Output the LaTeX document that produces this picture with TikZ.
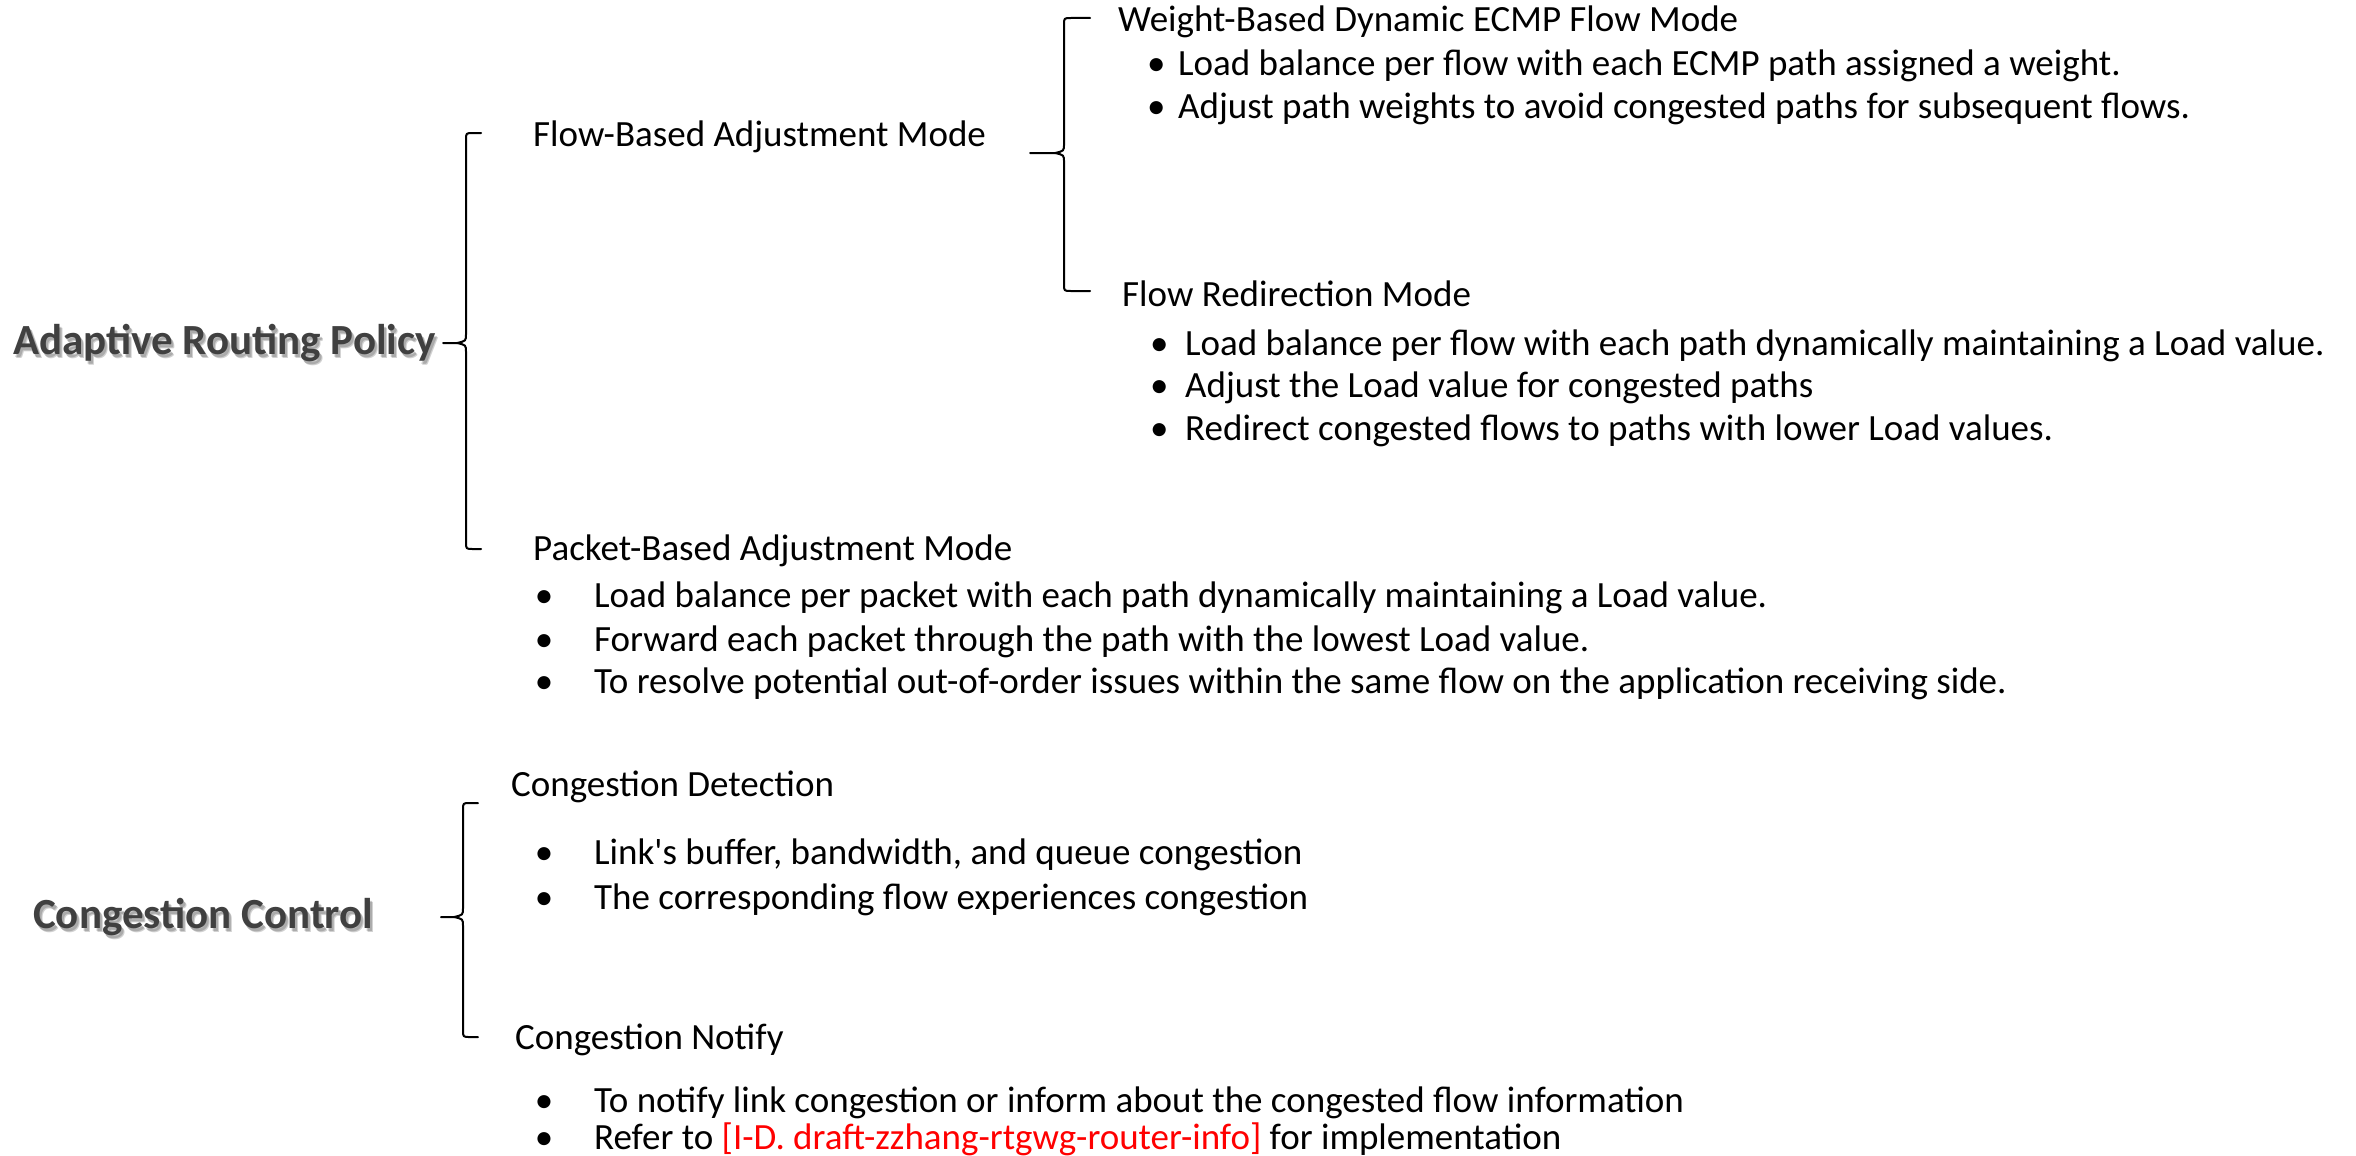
\documentclass[tikz,border=0pt]{standalone}
\usepackage{fontspec}
\setmainfont{Carlito}[Ligatures=TeXOff]
\definecolor{headgray}{HTML}{404040}
\definecolor{linkred}{HTML}{FF0000}

% bullet centred #1 to the left of where the item text starts
\newcommand\bulitem[2]{\llap{\makebox[0pt]{•}\hspace{#1}}#2}

% left curly bracket: x, top y, tip y, bottom y, end x of the hooks, end x of the tip
\newcommand\drawbrace[6]{%
  \draw[bracestyle] (#5,#2) -- ({#1+7},#2) .. controls (#1,#2) .. (#1,{#2+7})
    -- (#1,{#3-9}) .. controls (#1,{#3-2}) .. ({#1-9},#3) -- (#6,#3);
  \draw[bracestyle] ({#1-9},#3) .. controls (#1,{#3+2}) .. (#1,{#3+9})
    -- (#1,{#4-7}) .. controls (#1,#4) .. ({#1+7},#4) -- (#5,#4);
}

\tikzset{
  body/.style={anchor=base west, inner sep=0pt, font=\fontsize{37}{44}\selectfont},
  head/.style={anchor=base west, inner sep=0pt, font=\bfseries\fontsize{43}{52}\selectfont, text=headgray},
  headshadow/.style={head, text=black, opacity=0.18},
  bracestyle/.style={draw=black, line width=2pt, line join=round, line cap=round},
}

\begin{document}
\begin{tikzpicture}[x=1pt, y=-1pt]
  \useasboundingbox[fill=white] (0,0) rectangle (2356,1156);

  % top-level headings with a soft drop shadow
  \node[headshadow] (arp-sh1) at (15,357) {Adaptive Routing Policy};
  \node[headshadow] (arp-sh2) at (16,358) {Adaptive Routing Policy};
  \node[head] (arp) at (13,354) {Adaptive Routing Policy};

  \node[headshadow] (cc-sh1) at (35,931) {Congestion Control};
  \node[headshadow] (cc-sh2) at (36,932) {Congestion Control};
  \node[head] (cc) at (33,928) {Congestion Control};

  % adaptive routing policy: modes
  \node[body] (flowbased) at (533,146) {Flow-Based Adjustment Mode};

  \node[body] (weight) at (1118,32) {Weight-Based Dynamic ECMP Flow Mode};
  \node[body] (w1) at (1178,76) {\bulitem{22pt}{Load balance per flow with each ECMP path assigned a weight.}};
  \node[body] (w2) at (1178,118) {\bulitem{22pt}{Adjust path weights to avoid congested paths for subsequent flows.}};

  \node[body] (redir) at (1122,306) {Flow Redirection Mode};
  \node[body] (r1) at (1185,355) {\bulitem{26pt}{Load balance per flow with each path dynamically maintaining a Load value.}};
  \node[body] (r2) at (1185,397) {\bulitem{26pt}{Adjust the Load value for congested paths}};
  \node[body] (r3) at (1185,440) {\bulitem{26pt}{Redirect congested flows to paths with lower Load values.}};

  \node[body] (packet) at (533,560) {Packet-Based Adjustment Mode};
  \node[body] (p1) at (594,607) {\bulitem{50pt}{Load balance per packet with each path dynamically maintaining a Load value.}};
  \node[body] (p2) at (594,651) {\bulitem{50pt}{Forward each packet through the path with the lowest Load value.}};
  \node[body] (p3) at (594,693) {\bulitem{50pt}{To resolve potential out-of-order issues within the same flow on the application receiving side.}};

  % congestion control
  \node[body] (detect) at (511,796) {Congestion Detection};
  \node[body] (d1) at (594,864) {\bulitem{50pt}{Link's buffer, bandwidth, and queue congestion}};
  \node[body] (d2) at (594,909) {\bulitem{50pt}{The corresponding flow experiences congestion}};

  \node[body] (notify) at (515,1049) {Congestion Notify};
  \node[body] (n1) at (594,1112) {\bulitem{50pt}{To notify link congestion or inform about the congested flow information}};
  \node[body] (n2) at (594,1149) {\bulitem{50pt}{Refer to \textcolor{linkred}{[I-D. draft-zzhang-rtgwg-router-info]} for implementation}};

  % brackets
  \drawbrace{466}{133}{343}{549}{481}{443}
  \drawbrace{1064}{18}{153}{291}{1090}{1030}
  \drawbrace{463}{803}{917}{1037}{478}{441}
\end{tikzpicture}
\end{document}
